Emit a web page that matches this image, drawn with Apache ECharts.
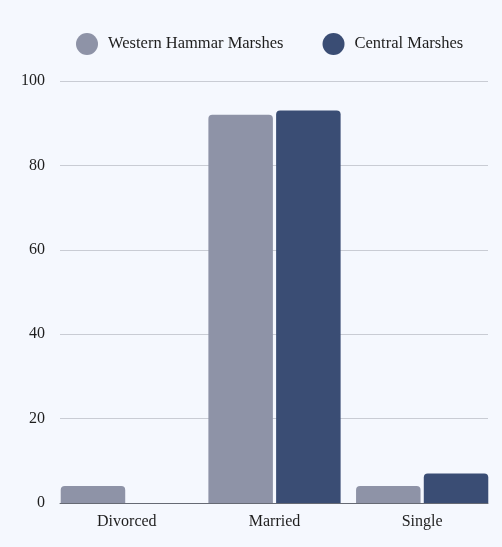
<!DOCTYPE html>
<html>
<head>
<meta charset="utf-8">
<script src="https://cdn.jsdelivr.net/npm/echarts@6/dist/echarts.min.js"></script>
<style>
  html, body { margin: 0; padding: 0; background: #f5f8fe; }
  #chart { width: 502px; height: 547px; }
</style>
</head>
<body>
<div id="chart"></div>
<script>
// Marital status counts by region
const categories = ['Divorced', 'Married', 'Single'];
const westernHammarMarshes = [4, 92, 4];
const centralMarshes = [0, 93, 7];
const yTicks = [0, 20, 40, 60, 80, 100];

const FONT = "'Liberation Serif', 'Times New Roman', serif";
const GRAY = '#8e93a7';
const NAVY = '#3a4d74';
const TEXT = '#1e1e1e';

const chart = echarts.init(document.getElementById('chart'));

chart.setOption({
  backgroundColor: '#f5f8fe',
  animation: false,
  textStyle: { fontFamily: FONT },
  legend: {
    top: 28,
    left: 71,
    icon: 'circle',
    itemWidth: 22,
    itemHeight: 22,
    itemGap: 39,
    textStyle: { fontFamily: FONT, fontSize: 16.5, color: TEXT, padding: [0, 0, 0, 5] },
    data: ['Western Hammar Marshes', 'Central Marshes']
  },
  grid: [
    // frame grid: y axis labels, gridlines, baseline
    { left: 60, right: 14, top: 81, bottom: 44 },
    // bar grid: wider category bands so the outer groups sit flush with the frame
    { left: 53, right: 6, top: 81, bottom: 44 }
  ],
  xAxis: [
    {
      gridIndex: 0,
      type: 'category',
      data: categories,
      axisLine: { show: true, lineStyle: { color: '#666a74', width: 1 } },
      axisTick: { show: false },
      axisLabel: { show: false }
    },
    {
      gridIndex: 1,
      type: 'category',
      data: categories,
      axisLine: { show: false },
      axisTick: { show: false },
      axisLabel: { margin: 11, fontFamily: FONT, fontSize: 16, color: TEXT }
    }
  ],
  yAxis: [
    {
      gridIndex: 0,
      type: 'value',
      min: yTicks[0],
      max: yTicks[yTicks.length - 1],
      interval: 20,
      axisLine: { show: false },
      axisTick: { show: false },
      axisLabel: { margin: 15, fontFamily: FONT, fontSize: 16, color: TEXT },
      splitLine: { lineStyle: { color: '#c9ccd4', width: 1 } }
    },
    {
      gridIndex: 1,
      type: 'value',
      min: yTicks[0],
      max: yTicks[yTicks.length - 1],
      interval: 20,
      show: false,
      splitLine: { show: false }
    }
  ],
  series: [
    {
      name: 'Western Hammar Marshes',
      type: 'bar',
      xAxisIndex: 1,
      yAxisIndex: 1,
      data: westernHammarMarshes,
      barWidth: 64.5,
      barGap: '5%',
      itemStyle: { color: GRAY, borderRadius: [4, 4, 0, 0] }
    },
    {
      name: 'Central Marshes',
      type: 'bar',
      xAxisIndex: 1,
      yAxisIndex: 1,
      data: centralMarshes,
      barWidth: 64.5,
      barGap: '5%',
      itemStyle: { color: NAVY, borderRadius: [4, 4, 0, 0] }
    }
  ]
});
</script>
</body>
</html>
